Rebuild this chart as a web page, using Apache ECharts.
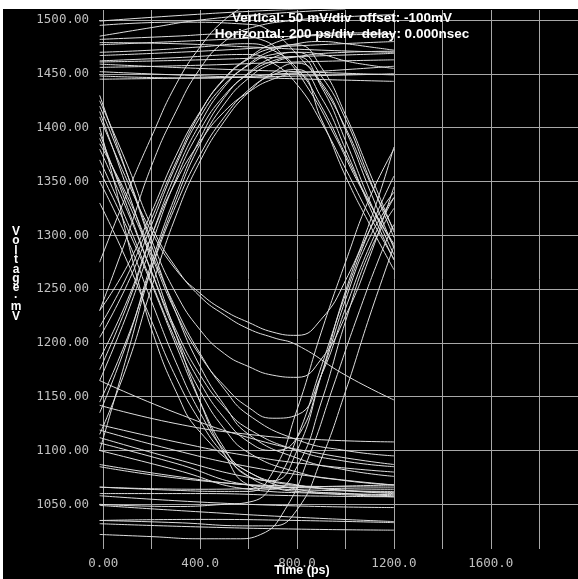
<!DOCTYPE html>
<html>
<head>
<meta charset="utf-8">
<script src="https://cdn.jsdelivr.net/npm/echarts@6/dist/echarts.min.js"></script>
<style>
html,body{margin:0;padding:0;background:#ffffff;width:578px;height:579px;overflow:hidden;}
#c{position:absolute;left:3px;top:9px;width:575px;height:570px;}
</style>
</head>
<body>
<div id="c"></div>
<script>
// ---- axis ticks ----
const timeTicks = [0, 200, 400, 600, 800, 1000, 1200, 1400, 1600, 1800];
const timeLabelTicks = [0, 400, 800, 1200, 1600];
const voltTicks = [1050, 1100, 1150, 1200, 1250, 1300, 1350, 1400, 1450, 1500];

// ---- traces: [time ps, voltage mV] ----
const highLevel = [
  [[-15,1499],[300,1504],[600,1508],[900,1511]],
  [[-15,1485],[200,1493],[400,1500],[700,1506],[1000,1510]],
  [[-15,1479],[300,1478],[600,1475],[900,1472],[1200,1470]],
  [[-15,1477],[400,1481],[800,1485],[1200,1487]],
  [[-15,1467],[400,1471],[800,1476],[1200,1480]],
  [[-15,1461],[400,1463],[800,1466],[1200,1469]],
  [[-15,1459],[400,1455],[800,1452],[1200,1449]],
  [[-15,1456],[400,1458],[800,1461],[1200,1463]],
  [[-15,1452],[300,1449],[700,1446],[1200,1443]],
  [[-15,1448],[400,1446],[800,1451],[1200,1457]],
  [[-15,1445],[600,1447],[1200,1450]]
];
const lowLevel = [
  [[-15,1124],[300,1108],[600,1095],[900,1086],[1200,1080]],
  [[-15,1119],[300,1100],[600,1085],[900,1075],[1200,1068]],
  [[-15,1112],[300,1092],[600,1075],[900,1065],[1200,1060]],
  [[-15,1107],[300,1088],[600,1068],[900,1063],[1200,1062]],
  [[-15,1100],[300,1082],[600,1064],[900,1060],[1200,1057]],
  [[-15,1087],[300,1076],[600,1068],[900,1065],[1200,1064]],
  [[-15,1085],[400,1072],[800,1067],[1200,1066]],
  [[-15,1066],[400,1064],[800,1066],[1200,1068]],
  [[-15,1060],[400,1060],[800,1058],[1200,1057]],
  [[-15,1058],[600,1050],[1200,1047]],
  [[-15,1049],[400,1043],[800,1038],[1200,1034]],
  [[-15,1035],[400,1036],[800,1035],[1200,1033]],
  [[-15,1032],[400,1029],[800,1027],[1200,1026]],
  [[-15,1165],[300,1135],[600,1112],[900,1097],[1200,1087]],
  [[-15,1142],[300,1125],[600,1115],[900,1110],[1200,1108]]
];
const riseFall = [
  [[-15,1185],[100,1240],[200,1300],[300,1350],[400,1387],[500,1415],[600,1433],[700,1445],[800,1450],[900,1408],[1000,1355],[1100,1310],[1200,1268]],
  [[-15,1165],[100,1228],[200,1292],[300,1352],[400,1398],[500,1430],[600,1450],[700,1462],[800,1466],[900,1438],[1000,1388],[1100,1332],[1200,1282]],
  [[-15,1205],[100,1255],[200,1310],[300,1365],[400,1410],[500,1440],[600,1458],[700,1468],[800,1470],[900,1448],[1000,1408],[1100,1352],[1200,1298]],
  [[-15,1145],[100,1205],[200,1270],[300,1328],[400,1375],[500,1410],[600,1435],[700,1449],[800,1454],[900,1428],[1000,1380],[1100,1326],[1200,1277]],
  [[-15,1230],[100,1272],[200,1322],[300,1374],[400,1415],[500,1445],[600,1464],[700,1474],[800,1477],[900,1456],[1000,1412],[1100,1358],[1200,1303]],
  [[-15,1115],[100,1180],[200,1252],[300,1318],[400,1369],[500,1406],[600,1433],[700,1451],[800,1460],[900,1442],[1000,1398],[1100,1342],[1200,1288]]
];
const riseStay = [
  [[-15,1175],[100,1236],[200,1300],[300,1358],[400,1404],[500,1438],[600,1459],[700,1472],[800,1478],[900,1480],[1000,1478],[1100,1475],[1200,1472]],
  [[-15,1135],[100,1202],[200,1275],[300,1338],[400,1390],[500,1428],[600,1451],[700,1465],[800,1470],[900,1468],[1000,1462],[1100,1458],[1200,1455]],
  [[-15,1215],[100,1263],[200,1316],[300,1368],[400,1414],[500,1446],[600,1465],[700,1478],[800,1484],[900,1487],[1000,1488],[1100,1488],[1200,1487]],
  [[-15,1100],[100,1190],[200,1270],[300,1333],[400,1385],[500,1422],[600,1446],[700,1460],[800,1466],[1000,1470],[1200,1471]]
];
const earlyRise = [
  [[-15,1275],[100,1340],[200,1392],[300,1440],[400,1475],[500,1500],[600,1515]],
  [[-15,1230],[100,1300],[200,1365],[300,1415],[400,1455],[500,1480],[600,1492],[800,1500],[1000,1503],[1200,1505]]
];
const fallRise = [
  [[-15,1410],[100,1350],[200,1303],[300,1268],[400,1246],[500,1230],[600,1219],[700,1210],[800,1207],[900,1222],[1000,1258],[1100,1312],[1200,1382]],
  [[-15,1420],[100,1356],[200,1295],[300,1246],[400,1212],[500,1190],[600,1178],[700,1170],[800,1168],[900,1185],[1000,1225],[1100,1280],[1200,1345]],
  [[-15,1390],[100,1332],[200,1280],[300,1228],[400,1188],[500,1160],[600,1140],[700,1130],[800,1133],[900,1170],[1000,1232],[1100,1290],[1200,1335]],
  [[-15,1380],[100,1322],[200,1265],[300,1208],[400,1163],[500,1130],[600,1108],[700,1100],[800,1112],[900,1170],[1000,1240],[1100,1298],[1200,1335]],
  [[-15,1360],[100,1306],[200,1254],[300,1198],[400,1145],[500,1102],[600,1076],[700,1072],[800,1100],[900,1170],[1000,1248],[1100,1305],[1200,1340]],
  [[-15,1415],[100,1342],[200,1275],[300,1208],[400,1145],[500,1097],[600,1068],[700,1064],[800,1085],[900,1145],[1000,1220],[1100,1285],[1200,1325]]
];
const fallStay = [
  [[-15,1425],[100,1365],[200,1308],[300,1270],[400,1243],[500,1226],[600,1213],[700,1205],[800,1198],[1000,1170],[1200,1147]],
  [[-15,1395],[100,1326],[200,1266],[300,1212],[400,1170],[500,1140],[600,1120],[800,1100],[1000,1090],[1200,1085]],
  [[-15,1370],[100,1312],[200,1256],[300,1202],[400,1155],[500,1120],[600,1098],[800,1080],[1000,1072],[1200,1068]],
  [[-15,1430],[100,1356],[200,1290],[300,1228],[400,1178],[500,1142],[600,1115],[800,1093],[1000,1082],[1200,1076]],
  [[-15,1350],[100,1296],[200,1238],[300,1182],[400,1135],[500,1100],[600,1080],[800,1064],[1000,1060],[1200,1058]],
  [[-15,1385],[100,1336],[200,1283],[300,1232],[400,1190],[500,1157],[600,1133],[800,1110],[1000,1100],[1200,1095]],
  [[-15,1400],[50,1345],[100,1296],[150,1252],[200,1212],[300,1155],[400,1117],[600,1080],[800,1068],[1000,1063],[1200,1061]],
  [[-15,1330],[100,1275],[200,1220],[300,1168],[400,1127],[500,1096],[600,1076],[700,1066],[800,1062],[1000,1060],[1200,1059]]
];
const lateRise = [
  [[-15,1022],[200,1020],[400,1018],[550,1018],[650,1022],[750,1045],[850,1095],[950,1160],[1050,1225],[1150,1285],[1200,1310]],
  [[-15,1035],[300,1033],[600,1030],[700,1030],[800,1045],[900,1092],[1000,1155],[1100,1225],[1200,1290]],
  [[-15,1050],[300,1048],[500,1050],[600,1052],[700,1068],[800,1112],[900,1178],[1000,1245],[1100,1305],[1200,1355]],
  [[-15,1066],[300,1063],[500,1062],[600,1062],[700,1080],[800,1138],[900,1210],[1000,1275],[1100,1335],[1200,1380]]
];
const lateFall = [
  [[-15,1470],[200,1472],[400,1475],[600,1478],[700,1472],[800,1455],[900,1420],[1000,1375],[1100,1330],[1200,1290]],
  [[-15,1482],[300,1485],[500,1487],[650,1482],[750,1465],[850,1435],[950,1395],[1050,1350],[1150,1310],[1200,1292]],
  [[-15,1462],[300,1465],[600,1468],[700,1460],[800,1440],[900,1405],[1000,1362],[1100,1318],[1200,1278]],
  [[-15,1495],[300,1498],[600,1496],[700,1488],[800,1468],[900,1440],[1000,1400],[1100,1350],[1200,1305]]
];

const families = [highLevel, lowLevel, riseFall, riseStay, earlyRise, fallRise, fallStay, lateRise, lateFall];

const series = [];
families.forEach(function (fam) {
  fam.forEach(function (trace) {
    series.push({
      type: 'line',
      data: trace,
      smooth: 0.5,
      showSymbol: false,
      silent: true,
      animation: false,
      lineStyle: { color: '#dedede', width: 1 },
      clip: true
    });
  });
});

const chart = echarts.init(document.getElementById('c'), null, { renderer: 'canvas' });
chart.setOption({
  backgroundColor: '#000000',
  animation: false,
  grid: { left: 96, right: 0, top: 1, bottom: 30, containLabel: false },
  xAxis: {
    type: 'value',
    min: -17.8,
    max: 1960,
    axisLine: { show: false },
    axisTick: { show: false, customValues: timeTicks },
    splitLine: { show: true, lineStyle: { color: '#a8a8a8', width: 1 } },
    axisLabel: {
      customValues: timeLabelTicks,
      color: '#c0c0c0',
      fontFamily: 'DejaVu Sans Mono',
      fontSize: 12.5,
      margin: 8,
      formatter: function (v) { return v === 0 ? '0.00' : v.toFixed(1); }
    }
  },
  yAxis: {
    type: 'value',
    min: 1008.5,
    max: 1509.3,
    axisLine: { show: false },
    axisTick: { show: false, customValues: voltTicks },
    splitLine: { show: true, lineStyle: { color: '#a8a8a8', width: 1 } },
    axisLabel: {
      customValues: voltTicks,
      color: '#c0c0c0',
      fontFamily: 'DejaVu Sans Mono',
      fontSize: 12.5,
      margin: 10,
      formatter: function (v) { return v.toFixed(2); }
    }
  },
  graphic: [
    { type: 'text', x: 339, y: 9, style: { text: 'Vertical: 50 mV/div  offset: -100mV', fill: '#ffffff', font: 'bold 13.5px "Liberation Sans Narrow", "Liberation Sans", sans-serif', textAlign: 'center', textVerticalAlign: 'middle' }, z: 100 },
    { type: 'text', x: 339, y: 25, style: { text: 'Horizontal: 200 ps/div  delay: 0.000nsec', fill: '#ffffff', font: 'bold 13.5px "Liberation Sans Narrow", "Liberation Sans", sans-serif', textAlign: 'center', textVerticalAlign: 'middle' }, z: 100 },
    { type: 'text', x: 299, y: 562, style: { text: 'Time (ps)', fill: '#ffffff', font: 'bold 12.5px "Liberation Sans Narrow", "Liberation Sans", sans-serif', textAlign: 'center', textVerticalAlign: 'middle' }, z: 100 },
    { type: 'text', x: 13, y: 218, style: { text: 'V\no\nl\nt\na\ng\ne\n·\nm\nV', fill: '#ffffff', font: 'bold 12px "Liberation Sans Narrow", "Liberation Sans", sans-serif', lineHeight: 9.4, textAlign: 'center', textVerticalAlign: 'top' }, z: 100 }
  ],
  series: series
});
</script>
</body>
</html>
